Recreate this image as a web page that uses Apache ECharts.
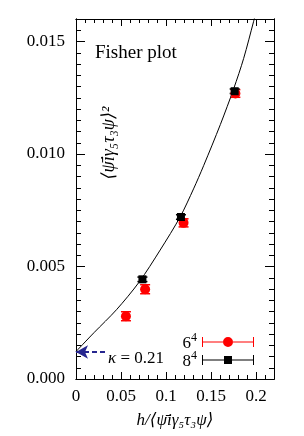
<!DOCTYPE html>
<html>
<head>
<meta charset="utf-8">
<script src="https://cdn.jsdelivr.net/npm/echarts@6/dist/echarts.min.js"></script>
<style>
html,body{margin:0;padding:0;background:#fff;}
#chart{width:304px;height:436px;}
</style>
</head>
<body>
<div id="chart"></div>
<script>
// ---- data ----
// fit curve samples [x, y]
const curveX = [0, 0.02, 0.045, 0.07, 0.0935, 0.1158, 0.1306, 0.1418, 0.1604, 0.1752, 0.1863, 0.1974, 0.2];
const curveY = [0.00122, 0.00206, 0.00308, 0.0043, 0.00573, 0.00721, 0.00845, 0.00948, 0.01131, 0.0129, 0.01425, 0.0159, 0.0163];
// 6^4 lattice (red circles)
const l6X = [0.0555, 0.0768, 0.1195, 0.1771];
const l6Y = [0.00279, 0.00399, 0.00694, 0.01269];
const l6Err = [0.0002, 0.0002, 0.00018, 0.00017];
// 8^4 lattice (black squares)
const l8X = [0.0738, 0.1166, 0.1763];
const l8Y = [0.00443, 0.0072, 0.01279];
const l8Err = [0.0001, 0.0001, 0.0001];
// intercept arrow (kappa = 0.21)
const arrowFromX = 0.035;
const arrowY = 0.0012;
// tick settings
const xTicks = {min: 0, max: 0.22, major: 0.05, minor: 0.01};
const yTicks = {min: 0, max: 0.016, major: 0.005, minor: 0.0005};
const legendNames = ['6^4', '8^4'];

const SERIF = '"Liberation Serif","DejaVu Serif",serif';
const chart = echarts.init(document.getElementById('chart'), null, {renderer: 'canvas'});

function mkAxis(kind, pos, interval, tickLen, withLabels) {
  const t = kind === 'x' ? xTicks : yTicks;
  const ax = {
    type: 'value', position: pos, min: t.min, max: t.max, interval: interval,
    axisLine: {show: true, onZero: false, lineStyle: {color: '#000', width: 1}},
    axisTick: {show: true, inside: true, length: tickLen, lineStyle: {color: '#000', width: 1}},
    splitLine: {show: false},
    axisLabel: {show: false}
  };
  if (withLabels) {
    ax.axisLabel = {
      show: true, showMaxLabel: false, color: '#000', fontFamily: SERIF, fontSize: 17,
      margin: kind === 'x' ? 9 : 11,
      formatter: kind === 'y' ? (v => v.toFixed(3)) : (v => String(+v.toFixed(2)))
    };
  }
  return ax;
}

const xAxes = [
  mkAxis('x', 'bottom', xTicks.major, 7, true),
  mkAxis('x', 'bottom', xTicks.minor, 4, false),
  mkAxis('x', 'top', xTicks.major, 7, false),
  mkAxis('x', 'top', xTicks.minor, 4, false)
];
xAxes[0].name = 'h/\u27E8\u03C8\u0304i\u03B3\u2085\u03C4\u2083\u03C8\u27E9';
xAxes[0].nameLocation = 'middle';
xAxes[0].nameGap = 33;
xAxes[0].nameTextStyle = {fontFamily: SERIF, fontSize: 17, fontStyle: 'italic', color: '#000'};

const yAxes = [
  mkAxis('y', 'left', yTicks.major, 9, true),
  mkAxis('y', 'left', yTicks.minor, 5, false),
  mkAxis('y', 'right', yTicks.major, 9, false),
  mkAxis('y', 'right', yTicks.minor, 5, false)
];

function errRender(color) {
  return function (params, api) {
    const x = api.value(0), y = api.value(1), e = api.value(2);
    const p1 = api.coord([x, y + e]);
    const p2 = api.coord([x, y - e]);
    const w = 5;
    const st = {stroke: color, lineWidth: 1.5};
    return {
      type: 'group',
      children: [
        {type: 'line', shape: {x1: p1[0], y1: p1[1], x2: p2[0], y2: p2[1]}, style: st},
        {type: 'line', shape: {x1: p1[0] - w, y1: p1[1], x2: p1[0] + w, y2: p1[1]}, style: st},
        {type: 'line', shape: {x1: p2[0] - w, y1: p2[1], x2: p2[0] + w, y2: p2[1]}, style: st}
      ]
    };
  };
}

const circIcon = 'path://M0,0h1v10h-1z M51,0h1v10h-1z M1,4.6h20v0.8h-20z M31,4.6h20v0.8h-20z M21,5a5,5 0 1,1 10,0a5,5 0 1,1 -10,0z';
const sqIcon = 'path://M0,0h1v10h-1z M51,0h1v10h-1z M1,4.6h21v0.8h-21z M30,4.6h21v0.8h-21z M22,1h8v8h-8z';

const supRich = {
  n: {fontFamily: SERIF, fontSize: 17, color: '#000', lineHeight: 20, verticalAlign: 'bottom'},
  s: {fontFamily: SERIF, fontSize: 12, color: '#000', lineHeight: 20, verticalAlign: 'top'}
};

chart.setOption({
  animation: false,
  backgroundColor: '#fff',
  grid: {left: 76, right: 30, top: 19, bottom: 57, containLabel: false},
  xAxis: xAxes,
  yAxis: yAxes,
  legend: {
    orient: 'vertical', align: 'right', right: 45, top: 327,
    itemWidth: 52, itemHeight: 10, itemGap: -2,
    formatter: name => {
      const p = name.split('^');
      return '{n|' + p[0] + '}{s|' + p[1] + '}';
    },
    textStyle: {fontFamily: SERIF, fontSize: 17, color: '#000', rich: supRich},
    data: [{name: legendNames[0], icon: circIcon}, {name: legendNames[1], icon: sqIcon}]
  },
  graphic: [
    {type: 'text', left: 95, top: 44, style: {text: 'Fisher plot', font: '19px ' + SERIF, fill: '#000'}},
    {type: 'text', x: 109, y: 143, rotation: Math.PI / 2,
     style: {text: '\u27E8\u03C8\u0304i\u03B3\u2085\u03C4\u2083\u03C8\u27E9\u00B2', font: 'italic 18px ' + SERIF, fill: '#000', align: 'center', verticalAlign: 'middle'}},
    {type: 'text', left: 108, top: 350,
     style: {text: '{k|\u03BA} = 0.21', font: '17px ' + SERIF, fill: '#000',
             rich: {k: {fontFamily: SERIF, fontSize: 17, fontStyle: 'italic', fill: '#000'}}}}
  ],
  series: [
    {
      type: 'line', name: 'fit', smooth: 0.3, showSymbol: false, symbol: 'none',
      clip: true, silent: true,
      lineStyle: {color: '#000', width: 1},
      data: curveX.map((x, i) => [x, curveY[i]]),
      markLine: {
        silent: true, symbol: ['arrow', 'none'], symbolSize: [10, 12],
        lineStyle: {color: '#26268f', width: 2, type: [5, 3]},
        label: {show: false},
        data: [[{coord: [0, arrowY]}, {coord: [arrowFromX, arrowY]}]]
      }
    },
    {
      type: 'custom', name: legendNames[0] + 'err', renderItem: errRender('#ff0000'),
      data: l6X.map((x, i) => [x, l6Y[i], l6Err[i]]), z: 3
    },
    {
      type: 'custom', name: legendNames[1] + 'err', renderItem: errRender('#000'),
      data: l8X.map((x, i) => [x, l8Y[i], l8Err[i]]), z: 3
    },
    {
      type: 'scatter', name: legendNames[0], symbol: 'circle', symbolSize: 10,
      itemStyle: {color: '#ff0000', opacity: 1},
      data: l6X.map((x, i) => [x, l6Y[i]]), z: 4
    },
    {
      type: 'scatter', name: legendNames[1], symbol: 'rect', symbolSize: 8,
      itemStyle: {color: '#000', opacity: 1},
      data: l8X.map((x, i) => [x, l8Y[i]]), z: 5
    }
  ]
});
</script>
</body>
</html>
